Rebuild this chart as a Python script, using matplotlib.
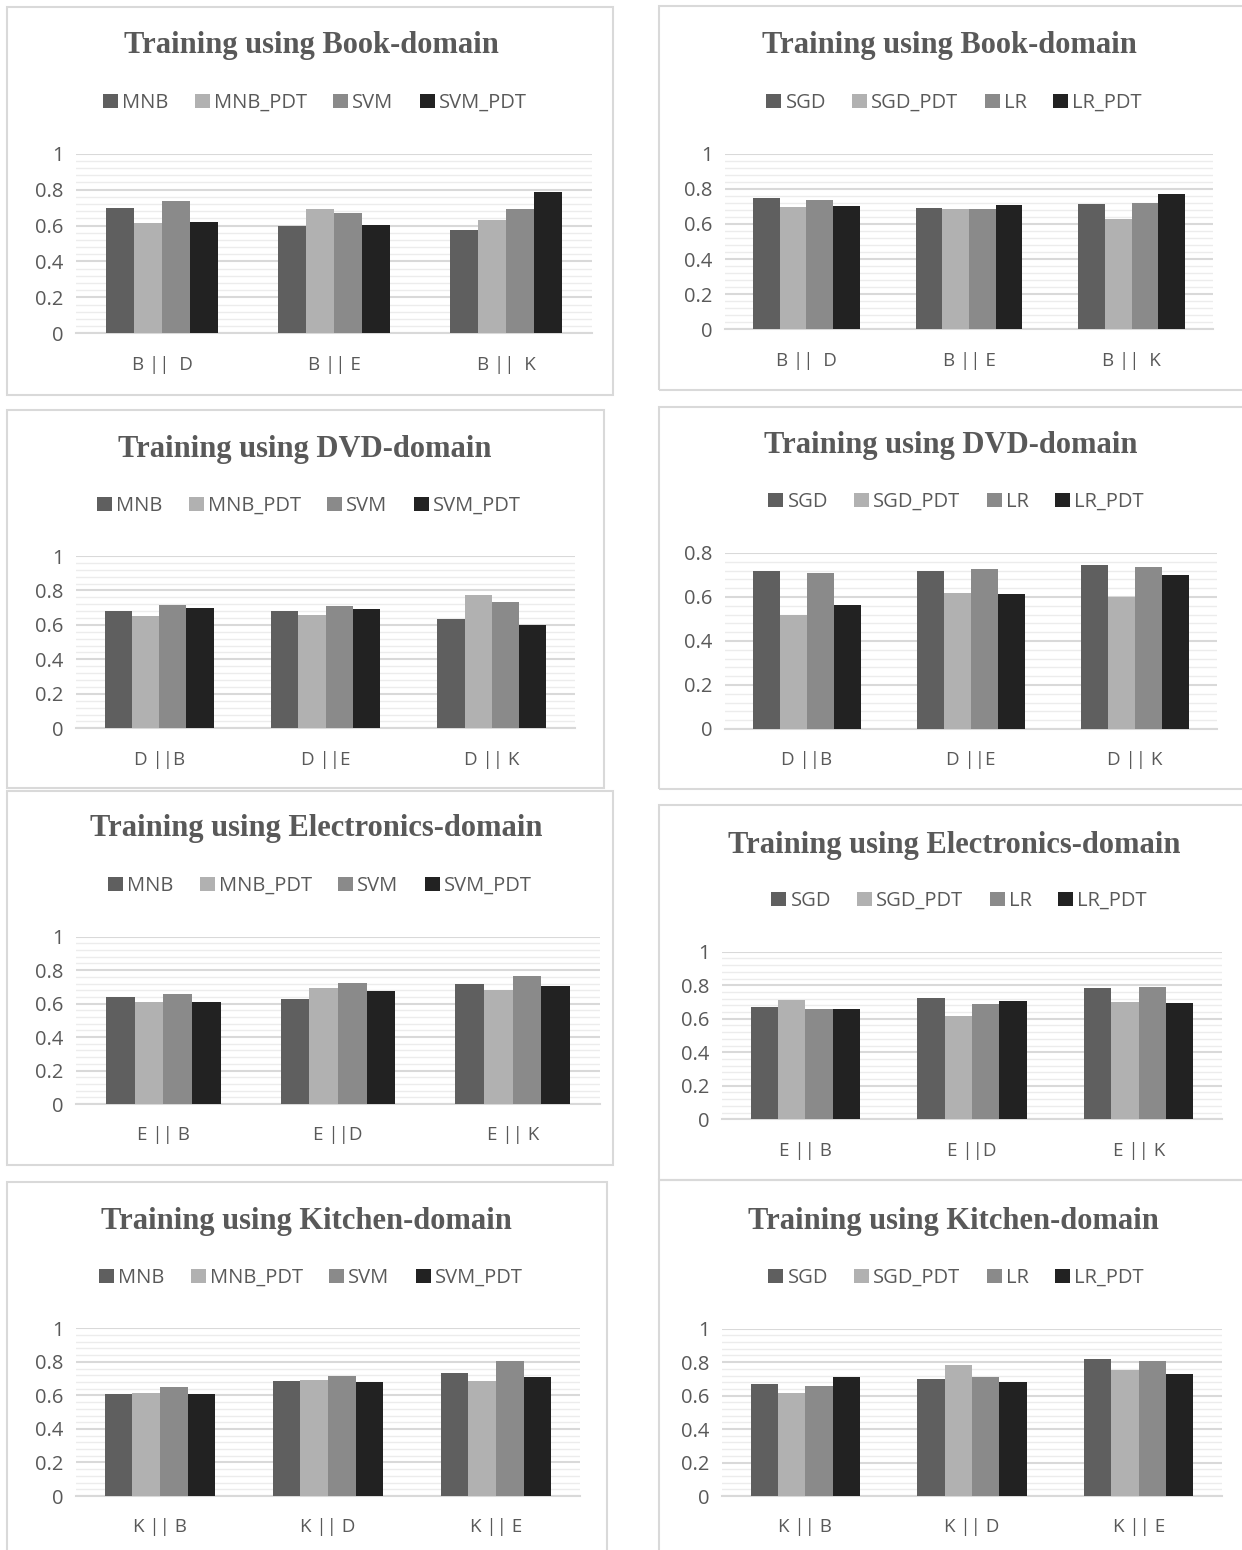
import matplotlib
matplotlib.use("Agg")
import matplotlib.pyplot as plt
from matplotlib.patches import Rectangle
from matplotlib.ticker import MultipleLocator
import numpy as np

# ---- data -------------------------------------------------------------
book_cats = ["B ||  D", "B || E", "B ||  K"]
dvd_cats = ["D ||B", "D ||E", "D || K"]
elec_cats = ["E || B", "E ||D", "E || K"]
kitchen_cats = ["K || B", "K || D", "K || E"]

left_series = ["MNB", "MNB_PDT", "SVM", "SVM_PDT"]
right_series = ["SGD", "SGD_PDT", "LR", "LR_PDT"]

book_mnb = [0.70, 0.60, 0.575]
book_mnb_pdt = [0.615, 0.69, 0.63]
book_svm = [0.735, 0.67, 0.69]
book_svm_pdt = [0.62, 0.605, 0.785]
book_sgd = [0.748, 0.69, 0.712]
book_sgd_pdt = [0.694, 0.687, 0.628]
book_lr = [0.736, 0.687, 0.719]
book_lr_pdt = [0.702, 0.71, 0.77]

dvd_mnb = [0.683, 0.683, 0.632]
dvd_mnb_pdt = [0.652, 0.66, 0.776]
dvd_svm = [0.716, 0.712, 0.731]
dvd_svm_pdt = [0.696, 0.691, 0.60]
dvd_sgd = [0.718, 0.718, 0.745]
dvd_sgd_pdt = [0.518, 0.617, 0.602]
dvd_lr = [0.709, 0.729, 0.735]
dvd_lr_pdt = [0.562, 0.614, 0.702]

elec_mnb = [0.641, 0.629, 0.719]
elec_mnb_pdt = [0.612, 0.691, 0.681]
elec_svm = [0.657, 0.723, 0.765]
elec_svm_pdt = [0.608, 0.675, 0.707]
elec_sgd = [0.668, 0.724, 0.781]
elec_sgd_pdt = [0.714, 0.614, 0.700]
elec_lr = [0.656, 0.688, 0.787]
elec_lr_pdt = [0.656, 0.708, 0.694]

kit_mnb = [0.606, 0.684, 0.732]
kit_mnb_pdt = [0.614, 0.694, 0.686]
kit_svm = [0.650, 0.714, 0.805]
kit_svm_pdt = [0.608, 0.678, 0.710]
kit_sgd = [0.669, 0.697, 0.819]
kit_sgd_pdt = [0.616, 0.785, 0.753]
kit_lr = [0.657, 0.713, 0.807]
kit_lr_pdt = [0.713, 0.681, 0.727]

bar_colors = ["#5f5f5f", "#b1b1b1", "#8a8a8a", "#222222"]
text_color = "#595959"

W, H = 1242, 1550
fig = plt.figure(figsize=(W / 100, H / 100), dpi=100)
fig.patch.set_facecolor("white")


def fx(x):
    return x / W


def fy(y):
    return 1 - y / H


# panel layout in pixels: frame box, plot area, title centre, legend centre
panels = [
    dict(title="Training using Book-domain", cats=book_cats, names=left_series,
         vals=[book_mnb, book_mnb_pdt, book_svm, book_svm_pdt], ymax=1.0,
         box=(7, 7, 613, 395), area=(76, 153.7, 592, 333.3),
         tpos=(311, 46), lpos=(315, 103)),
    dict(title="Training using Book-domain", cats=book_cats, names=right_series,
         vals=[book_sgd, book_sgd_pdt, book_lr, book_lr_pdt], ymax=1.0,
         box=(659, 6, 1250, 390), area=(725, 153.7, 1213, 329.3),
         tpos=(949, 46), lpos=(954, 103)),
    dict(title="Training using DVD-domain", cats=dvd_cats, names=left_series,
         vals=[dvd_mnb, dvd_mnb_pdt, dvd_svm, dvd_svm_pdt], ymax=1.0,
         box=(7, 410, 604, 788), area=(76, 556, 575, 728.3),
         tpos=(305, 449), lpos=(309, 506)),
    dict(title="Training using DVD-domain", cats=dvd_cats, names=right_series,
         vals=[dvd_sgd, dvd_sgd_pdt, dvd_lr, dvd_lr_pdt], ymax=0.8,
         box=(659, 407, 1250, 789), area=(725, 553, 1217, 729),
         tpos=(951, 445), lpos=(956, 502)),
    dict(title="Training using Electronics-domain", cats=elec_cats, names=left_series,
         vals=[elec_mnb, elec_mnb_pdt, elec_svm, elec_svm_pdt], ymax=1.0,
         box=(7, 791, 613, 1165), area=(76, 936.7, 600, 1104),
         tpos=(316, 829), lpos=(320, 886)),
    dict(title="Training using Electronics-domain", cats=elec_cats, names=right_series,
         vals=[elec_sgd, elec_sgd_pdt, elec_lr, elec_lr_pdt], ymax=1.0,
         box=(659, 805, 1250, 1180), area=(722, 951.7, 1222, 1119.3),
         tpos=(954, 845), lpos=(959, 901)),
    dict(title="Training using Kitchen-domain", cats=kitchen_cats, names=left_series,
         vals=[kit_mnb, kit_mnb_pdt, kit_svm, kit_svm_pdt], ymax=1.0,
         box=(7, 1182, 607, 1560), area=(76, 1328.3, 580, 1496),
         tpos=(306, 1221), lpos=(311, 1278)),
    dict(title="Training using Kitchen-domain", cats=kitchen_cats, names=right_series,
         vals=[kit_sgd, kit_sgd_pdt, kit_lr, kit_lr_pdt], ymax=1.0,
         box=(659, 1180, 1250, 1560), area=(722, 1328.7, 1222, 1496),
         tpos=(953, 1221), lpos=(956, 1278)),
]

bar_w = 1 / 6.1

for p in panels:
    l, t, r, b = p["box"]
    fig.add_artist(Rectangle((fx(l), fy(b)), (r - l) / W, (b - t) / H,
                             transform=fig.transFigure, fill=False,
                             ec="#d9d9d9", lw=1.5))

    al, at, ar, ab = p["area"]
    ax = fig.add_axes([fx(al), fy(ab), (ar - al) / W, (ab - at) / H])
    x = np.arange(len(p["cats"]))
    handles = []
    for i, (name, vals) in enumerate(zip(p["names"], p["vals"])):
        h = ax.bar(x + (i - 1.5) * bar_w, vals, width=bar_w,
                   color=bar_colors[i], label=name, zorder=3, linewidth=0)
        handles.append(h)

    ymax = p["ymax"]
    ax.set_xlim(-0.5, len(p["cats"]) - 0.5)
    ax.set_ylim(0, ymax)
    ax.yaxis.set_major_locator(MultipleLocator(0.2))
    ax.yaxis.set_minor_locator(MultipleLocator(0.04))
    majors = np.round(np.arange(0, ymax + 0.001, 0.2), 1)
    ax.set_yticks(majors)
    ax.set_yticklabels([("%g" % v) for v in majors])
    ax.grid(axis="y", which="major", color="#d9d9d9", lw=1.5, zorder=0)
    ax.grid(axis="y", which="minor", color="#ececec", lw=1.0, zorder=0)
    for s in ["top", "right", "left"]:
        ax.spines[s].set_visible(False)
    ax.spines["bottom"].set_color("#d9d9d9")
    ax.spines["bottom"].set_linewidth(1.5)
    ax.set_xticks(x)
    ax.set_xticklabels(p["cats"])
    ax.tick_params(axis="both", which="both", length=0)
    ax.tick_params(axis="y", labelsize=14.5, pad=9, labelcolor=text_color)
    ax.tick_params(axis="x", labelsize=13.5, pad=16, labelcolor=text_color)
    for lab in ax.get_xticklabels() + ax.get_yticklabels():
        lab.set_fontfamily("Open Sans")
    ax.set_facecolor("none")

    tx, ty = p["tpos"]
    fig.text(fx(tx), fy(ty), p["title"], ha="center", va="center",
             fontsize=22, fontweight="bold", family="Liberation Serif",
             color=text_color)

    lx, ly = p["lpos"]
    leg = ax.legend(handles=handles, loc="center", ncol=4, frameon=False,
                    bbox_to_anchor=(fx(lx), fy(ly)),
                    bbox_transform=fig.transFigure,
                    handlelength=0.75, handleheight=0.75, handletextpad=0.2,
                    columnspacing=1.3,
                    prop={"family": "Open Sans", "size": 14.5})
    for txt in leg.get_texts():
        txt.set_color(text_color)

fig.savefig("out.png", dpi=100, facecolor="white")
